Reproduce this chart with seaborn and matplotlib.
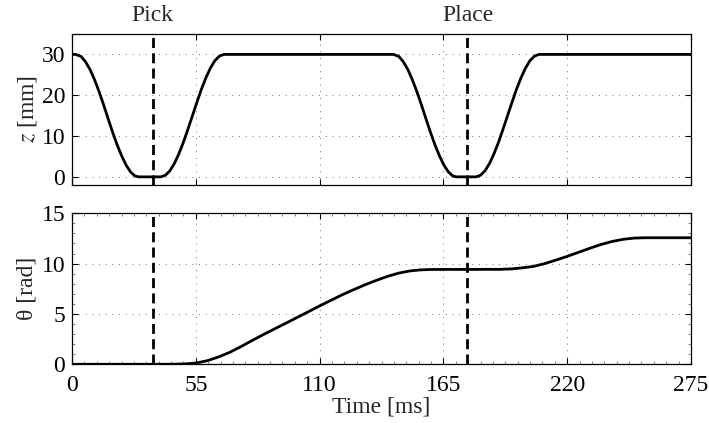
import matplotlib
matplotlib.use("Agg")
import matplotlib.pyplot as plt
from matplotlib.ticker import MultipleLocator
import pandas as pd
import seaborn as sns

# Gripper height z [mm] over time [ms]
t_z = [0, 1.6, 4, 6, 8, 10, 12, 14, 16, 18, 20, 22, 24, 26, 28, 29.6,
       39.5, 41.5, 43.5, 45.5, 47.5, 49.5, 51.5, 53.5, 55.5, 57.5, 59.5, 61.5, 63.5, 65.5, 67.5,
       142.8, 145.2, 147.2, 149.2, 151.2, 153.2, 155.2, 157.2, 159.2, 161.2, 163.2, 165.2, 167.2, 169.2, 170.8,
       179.5, 181.5, 183.5, 185.5, 187.5, 189.5, 191.5, 193.5, 195.5, 197.5, 199.5, 201.5, 203.5, 205.5, 207.5,
       275]
z_mm = [30, 30, 29.5, 28.2, 26.3, 23.8, 20.9, 17.7, 14.3, 11.0, 7.9, 5.2, 2.9, 1.2, 0.2, 0,
        0, 0.4, 1.5, 3.3, 5.7, 8.5, 11.7, 15, 18.3, 21.5, 24.3, 26.7, 28.5, 29.6, 30,
        30, 29.5, 28.2, 26.3, 23.8, 20.9, 17.7, 14.3, 11.0, 7.9, 5.2, 2.9, 1.2, 0.2, 0,
        0, 0.4, 1.5, 3.3, 5.7, 8.5, 11.7, 15, 18.3, 21.5, 24.3, 26.7, 28.5, 29.6, 30,
        30]

# Rotation angle theta [rad] over time [ms]
t_theta = [0, 40, 45, 50, 55, 60, 65, 70, 75, 80, 85, 90, 95, 100, 105, 110, 115, 120,
           125, 130, 135, 140, 145, 150, 155, 160, 190, 195, 200, 205, 210, 215, 220,
           225, 230, 235, 240, 245, 250, 255, 275]
theta_rad = [0, 0, 0.01, 0.04, 0.12, 0.35, 0.72, 1.18, 1.75, 2.36, 2.95, 3.52, 4.08, 4.65,
             5.22, 5.80, 6.35, 6.90, 7.40, 7.88, 8.32, 8.72, 9.05, 9.27, 9.38, 9.42, 9.43,
             9.47, 9.58, 9.72, 10.0, 10.35, 10.72, 11.12, 11.52, 11.90, 12.20, 12.42, 12.54,
             12.57, 12.57]

# Event markers
event_names = ["Pick", "Place"]
event_times = [35.8, 175.7]

x_ticks = [0, 55, 110, 165, 220, 275]
z_ticks = [0, 10, 20, 30]
theta_ticks = [0, 5, 10, 15]

sns.set_style("ticks")
plt.rcParams["font.family"] = ["Liberation Serif", "DejaVu Serif"]
plt.rcParams["mathtext.fontset"] = "stix"
FS = 17

df_z = pd.DataFrame({"t": t_z, "z": z_mm})
df_th = pd.DataFrame({"t": t_theta, "theta": theta_rad})

fig = plt.figure(figsize=(7.09, 4.23), dpi=100)
ax1 = fig.add_axes([0.1016, 0.5626, 0.873, 0.357])
ax2 = fig.add_axes([0.1016, 0.1388, 0.873, 0.357])

sns.lineplot(data=df_z, x="t", y="z", ax=ax1, color="black", lw=2.0, estimator=None, sort=False)
sns.lineplot(data=df_th, x="t", y="theta", ax=ax2, color="black", lw=2.0, estimator=None, sort=False)

for ax in (ax1, ax2):
    for tv in event_times:
        ax.axvline(tv, color="black", lw=2.0, linestyle=(0, (3.6, 1.9)), zorder=3)
    ax.set_xlim(0, 275)
    ax.set_xticks(x_ticks)
    ax.grid(True, which="major", color="#444444", lw=0.6, linestyle=(0, (1, 7)))
    ax.tick_params(direction="in", top=True, right=True, length=4, width=0.8,
                   labelsize=FS, colors="black", pad=5)
    for sp in ax.spines.values():
        sp.set_visible(True)
        sp.set_color("black")
        sp.set_linewidth(0.9)

ax1.set_ylim(-2, 35)
ax1.set_yticks(z_ticks)
ax1.set_xticklabels([])
ax1.set_xlabel("")
ax1.set_ylabel(r"$z$ [mm]", fontsize=FS, labelpad=2)

ax2.set_ylim(0, 15)
ax2.set_yticks(theta_ticks)
ax2.xaxis.set_minor_locator(MultipleLocator(5.5))
ax2.yaxis.set_minor_locator(MultipleLocator(1))
ax2.tick_params(which="minor", direction="in", top=True, right=True, length=2,
                width=0.5, colors="#555555")
ax2.tick_params(axis="x", which="major", pad=8)
ax2.set_xlabel("Time [ms]", fontsize=FS, labelpad=0)
ax2.set_ylabel("θ [rad]", fontsize=FS, labelpad=3)

for name, tv in zip(event_names, event_times):
    ax1.text(tv, 1.125, name, transform=ax1.get_xaxis_transform(),
             ha="center", va="center", fontsize=FS)

fig.savefig("out.png", dpi=100)
